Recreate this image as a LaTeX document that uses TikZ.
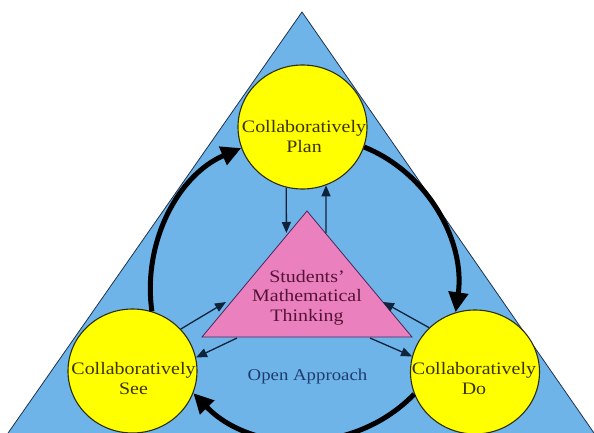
\documentclass[tikz,border=0pt]{standalone}
\usepackage{fontspec}
\newfontfamily\lblfont[FakeStretch=1.14]{Liberation Serif}
\usetikzlibrary{arrows.meta,shapes.geometric}
\definecolor{sky}{RGB}{110,180,232}
\definecolor{edgecol}{RGB}{30,50,80}
\definecolor{yel}{RGB}{255,255,0}
\definecolor{circline}{RGB}{45,45,20}
\definecolor{circtext}{RGB}{60,52,5}
\definecolor{pinkfill}{RGB}{235,128,190}
\definecolor{pinkline}{RGB}{70,40,90}
\definecolor{pinktext}{RGB}{85,20,55}
\definecolor{opentext}{RGB}{30,60,110}
\definecolor{navyline}{RGB}{15,35,60}
\begin{document}
\begin{tikzpicture}[x=1pt,y=1pt,
  stage/.style={ellipse, draw=circline, line width=1.1pt, fill=yel,
    minimum width=129pt, minimum height=124pt, inner sep=0pt},
  cirtext/.style={font=\lblfont\fontsize{17.5}{19.5}\selectfont, text=circtext,
    align=center, inner sep=0pt},
  bigarrow/.style={line width=5pt, draw=black, -{Triangle[length=20pt,width=19pt]}},
  thinarrow/.style={line width=1.3pt, draw=navyline,
    -{Triangle[length=11pt,width=9pt]}}]
\useasboundingbox (0,0) rectangle (594,-433);
\clip (0,0) rectangle (594,-433);
\fill[white] (0,0) rectangle (594,-433);
% outer triangle
\draw[draw=edgecol, line width=0.8pt, fill=sky] (302,-12) -- (-1,-446) -- (603,-446) -- cycle;
% stages
\node[stage] (nplan) at (302.5,-127) {};
\node[stage] (nsee) at (132.5,-371) {};
\node[stage] (ndo) at (475,-372) {};
\node[cirtext] (tplan) at (304,-136.5) {Collaboratively\\Plan};
\node[cirtext] (tsee) at (133.5,-378.75) {Collaboratively\\See};
\node[cirtext] (tdo) at (474,-378.75) {Collaboratively\\Do};
% central triangle
\coordinate (ta) at (307,-211);
\coordinate (tl) at (202,-337);
\coordinate (tr) at (412,-337);
\draw[draw=pinkline, line width=0.8pt, fill=pinkfill] (ta) -- (tl) -- (tr) -- cycle;
\node[cirtext, text=pinktext] (smt) at (307,-297.4) {Students’\\Mathematical\\Thinking};
\node[font=\lblfont\fontsize{16.5}{19}\selectfont, text=opentext, anchor=base, inner sep=0pt]
  (open) at (307.5,-380) {Open Approach};
% big cycle arrows
\draw[bigarrow] (nsee.72) to[out=98,in=203,looseness=0.95] (nplan.199);
\draw[bigarrow] (nplan.-18) to[out=-22,in=82,looseness=0.95] (ndo.108);
\draw[bigarrow] (ndo.200) to[out=-134,in=314,looseness=0.99] (nsee.-20);
% thin arrows
\coordinate (pa) at (286.4,-233);
\coordinate (pb) at (325.9,-233);
\coordinate (pc) at (226,-302);
\coordinate (pd) at (237,-338);
\coordinate (pe) at (383,-302);
\coordinate (pf) at (370,-338);
\draw[thinarrow] (nplan.255) -- (pa);
\draw[thinarrow] (pb) -- (nplan.-68);
\draw[thinarrow] (nsee.41) -- (pc);
\draw[thinarrow] (pd) -- (nsee.12);
\draw[thinarrow] (ndo.136) -- (pe);
\draw[thinarrow] (pf) -- (ndo.166);
\end{tikzpicture}
\end{document}
